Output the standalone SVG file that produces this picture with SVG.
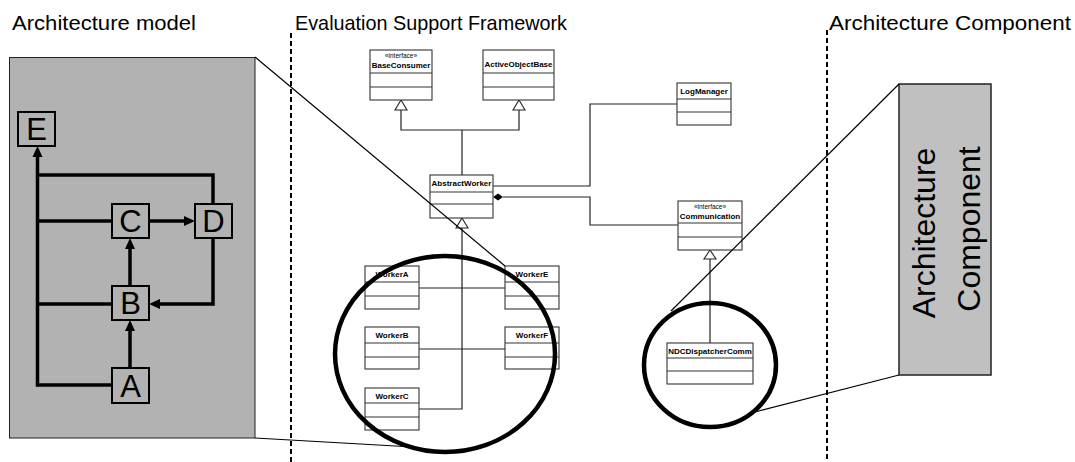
<svg xmlns="http://www.w3.org/2000/svg" width="1075" height="462" viewBox="0 0 1075 462">
<style>
.title{font-family:"Liberation Sans",Arial,sans-serif;font-size:21px;fill:#000}
.dash{stroke:#000;stroke-width:2;stroke-dasharray:5 3;fill:none}
.gnode rect{fill:#b2b2b2;stroke:#000;stroke-width:2}
.gnode text{font-family:"Liberation Sans",Arial,sans-serif;font-size:31px;text-anchor:middle;fill:#000}
.gedge{fill:none;stroke:#000;stroke-width:3.5}
.cls rect{fill:#fff;stroke:#333;stroke-width:1.1}
.cls line{stroke:#333;stroke-width:1.1}
.cls .nm{font-family:"Liberation Sans",Arial,sans-serif;font-size:8px;font-weight:bold;text-anchor:middle;fill:#000}
.cls .st{font-family:"Liberation Sans",Arial,sans-serif;font-size:6.5px;text-anchor:middle;fill:#000}
.uedge{fill:none;stroke:#222;stroke-width:1.2}
.tri{fill:#fff;stroke:#222;stroke-width:1.1}
.zoom{fill:none;stroke:#000;stroke-width:1.2}
.focus{fill:none;stroke:#000;stroke-width:4.5}
.big{font-family:"Liberation Sans",Arial,sans-serif;font-size:32px;text-anchor:middle;fill:#000}
</style>
<defs>
<marker id="ah" markerUnits="userSpaceOnUse" markerWidth="12" markerHeight="11" refX="0" refY="5" orient="auto" viewBox="0 0 12 10">
<path d="M0,0 L11,5 L0,10 z" fill="#000"/>
</marker>
</defs>

<!-- titles -->
<text class="title" x="12" y="30" textLength="184" lengthAdjust="spacingAndGlyphs">Architecture model</text>
<text class="title" x="295" y="30" textLength="272" lengthAdjust="spacingAndGlyphs">Evaluation Support Framework</text>
<text class="title" x="829" y="30" textLength="242" lengthAdjust="spacingAndGlyphs">Architecture Component</text>
<line class="dash" x1="291" y1="33" x2="291" y2="462"/>
<line class="dash" x1="827" y1="30" x2="827" y2="462"/>

<!-- left panel -->
<g id="architecture-model">
<rect x="9.5" y="57.5" width="245.5" height="380.5" fill="#b2b2b2" stroke="#222" stroke-width="1"/>
</g>

<g id="model-connectors">
<path class="gedge" d="M112,385 H37.5 V157" marker-end="url(#ah)"/>
<path class="gedge" d="M112,304 H37.5"/>
<path class="gedge" d="M112,221 H37.5"/>
<path class="gedge" d="M213,204 V175 H37.5"/>
<path class="gedge" d="M149,221 H184" marker-end="url(#ah)"/>
<path class="gedge" d="M213,238 V304 H160" marker-end="url(#ah)"/>
<path class="gedge" d="M130,286 V249" marker-end="url(#ah)"/>
<path class="gedge" d="M130,368 V331" marker-end="url(#ah)"/>
</g>

<g id="node-E" class="gnode"><rect x="18" y="112" width="37" height="34"/><text x="36.5" y="140">E</text></g>
<g id="node-C" class="gnode"><rect x="112" y="204" width="37" height="34"/><text x="130.5" y="232">C</text></g>
<g id="node-D" class="gnode"><rect x="195" y="204" width="37" height="34"/><text x="213.5" y="232">D</text></g>
<g id="node-B" class="gnode"><rect x="112" y="286" width="37" height="34"/><text x="130.5" y="314">B</text></g>
<g id="node-A" class="gnode"><rect x="112" y="368" width="37" height="35"/><text x="130.5" y="397">A</text></g>

<!-- UML connectors -->
<g id="uml-connectors">
<path class="uedge" d="M401,110 V130 H519 V110"/>
<polygon class="tri" points="401,100 395,110 407,110"/>
<polygon class="tri" points="519,100 513,110 525,110"/>
<path class="uedge" d="M462,130 V175"/>
<path class="uedge" d="M493,186 H590 V104 H677"/>
<path class="uedge" d="M503,197 H590 V225 H678"/>
<polygon points="493,197 498,193.5 503,197 498,200.5" fill="#000"/>
<path class="uedge" d="M710,259 V343"/>
<polygon class="tri" points="710,250 704,259 716,259"/>
<path class="uedge" d="M462,228 V409 H419"/>
<path class="uedge" d="M419,288 H505"/>
<path class="uedge" d="M419,349 H505"/>
<polygon class="tri" points="462,218 456,228 468,228"/>
</g>

<!-- UML classes -->
<g id="BaseConsumer" class="cls"><rect x="370" y="50" width="62" height="50"/><line x1="370" y1="73" x2="432" y2="73"/><line x1="370" y1="87" x2="432" y2="87"/><text class="st" x="401" y="58">«interface»</text><text class="nm" x="401" y="68">BaseConsumer</text></g>
<g id="ActiveObjectBase" class="cls"><rect x="483" y="50" width="71" height="50"/><line x1="483" y1="73" x2="554" y2="73"/><line x1="483" y1="87" x2="554" y2="87"/><text class="nm" x="518.5" y="67">ActiveObjectBase</text></g>
<g id="AbstractWorker" class="cls"><rect x="430" y="175" width="63" height="43"/><line x1="430" y1="192" x2="493" y2="192"/><line x1="430" y1="204" x2="493" y2="204"/><text class="nm" x="461.5" y="186">AbstractWorker</text></g>
<g id="LogManager" class="cls"><rect x="677" y="83" width="54" height="42"/><line x1="677" y1="99" x2="731" y2="99"/><line x1="677" y1="112" x2="731" y2="112"/><text class="nm" x="704" y="94">LogManager</text></g>
<g id="Communication" class="cls"><rect x="678" y="201" width="64" height="49"/><line x1="678" y1="223" x2="742" y2="223"/><line x1="678" y1="237" x2="742" y2="237"/><text class="st" x="710" y="209">«interface»</text><text class="nm" x="710" y="219">Communication</text></g>
<g id="NDCDispatcherComm" class="cls"><rect x="667" y="343" width="86" height="41"/><line x1="667" y1="358" x2="753" y2="358"/><line x1="667" y1="371" x2="753" y2="371"/><text class="nm" x="710" y="354">NDCDispatcherComm</text></g>
<g id="WorkerA" class="cls"><rect x="365" y="266" width="54" height="43"/><line x1="365" y1="282" x2="419" y2="282"/><line x1="365" y1="296" x2="419" y2="296"/><text class="nm" x="392" y="277">WorkerA</text></g>
<g id="WorkerE" class="cls"><rect x="505" y="266" width="54" height="43"/><line x1="505" y1="282" x2="559" y2="282"/><line x1="505" y1="296" x2="559" y2="296"/><text class="nm" x="532" y="277">WorkerE</text></g>
<g id="WorkerB" class="cls"><rect x="365" y="327" width="54" height="42"/><line x1="365" y1="343" x2="419" y2="343"/><line x1="365" y1="357" x2="419" y2="357"/><text class="nm" x="392" y="338">WorkerB</text></g>
<g id="WorkerF" class="cls"><rect x="505" y="327" width="54" height="42"/><line x1="505" y1="343" x2="559" y2="343"/><line x1="505" y1="357" x2="559" y2="357"/><text class="nm" x="532" y="338">WorkerF</text></g>
<g id="WorkerC" class="cls"><rect x="365" y="388" width="54" height="42"/><line x1="365" y1="403" x2="419" y2="403"/><line x1="365" y1="417" x2="419" y2="417"/><text class="nm" x="392" y="399">WorkerC</text></g>

<!-- focus ellipses -->
<g id="focus-workers"><ellipse class="focus" cx="445" cy="354" rx="110" ry="98"/></g>
<g id="focus-ndc"><ellipse class="focus" cx="710" cy="365" rx="66" ry="62"/></g>

<!-- architecture component -->
<g id="architecture-component">
<rect x="899" y="84" width="92" height="291" fill="#c0c0c0" stroke="#222" stroke-width="1.5"/>
<text class="big" transform="translate(935,233) rotate(-90)">Architecture</text>
<text class="big" transform="translate(980,229) rotate(-90)">Component</text>
</g>

<!-- zoom lines -->
<g id="zoom-lines">
<line class="zoom" x1="255" y1="57" x2="505" y2="266"/>
<line class="zoom" x1="255" y1="438" x2="413" y2="447"/>
<line class="zoom" x1="899" y1="84" x2="671" y2="311"/>
<line class="zoom" x1="899" y1="375" x2="755" y2="412"/>
</g>
</svg>
